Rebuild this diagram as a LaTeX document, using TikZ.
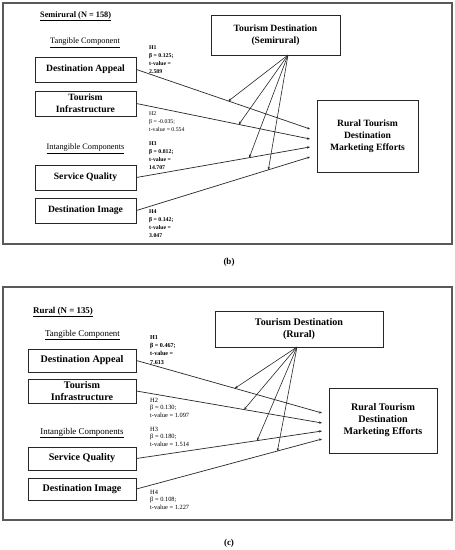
\documentclass[tikz,border=0pt]{standalone}
\usepackage{fontspec}
\setmainfont{Liberation Serif}
\usetikzlibrary{arrows.meta}
\begin{document}
\begin{tikzpicture}[x=1pt,y=-1pt,
  frame/.style={draw=black!65,line width=1.1pt},
  cbox/.style={draw=black!85,line width=0.9pt,align=center,inner sep=0pt,font=\fontsize{9.6}{12}\selectfont\bfseries},
  cboxc/.style={cbox,font=\fontsize{10.1}{12}\selectfont\bfseries},
  hlab/.style={anchor=north west,align=left,inner sep=0pt,font=\fontsize{5.8}{8.3}\selectfont},
  hlabb/.style={hlab,font=\fontsize{5.8}{8.3}\selectfont\bfseries},
  hlabc/.style={anchor=north west,align=left,inner sep=0pt,font=\fontsize{6.4}{7.3}\selectfont},
  sect/.style={inner sep=0pt,font=\fontsize{8.3}{10}\selectfont},
  sectc/.style={inner sep=0pt,font=\fontsize{8.9}{10}\selectfont},
  pathline/.style={draw=black!85,line width=0.7pt,-{Stealth[length=3pt,width=2.4pt]}},
  modarr/.style={draw=black!85,line width=0.6pt,-{Stealth[length=3pt,width=2.4pt]}},
  captext/.style={inner sep=0pt,font=\fontsize{9}{11}\selectfont\bfseries}]
\useasboundingbox (0,0) rectangle (455,550);
\fill[white] (0,0) rectangle (455,550);

% ---------- Panel (b) ----------
\draw[frame] (3,3) rectangle (452,244);
\node[sect,anchor=west,font=\fontsize{8.3}{10}\selectfont\bfseries] (bt) at (40,16) {\underline{Semirural (N = 158)}};
\node[sect] (btc) at (85,43) {\underline{Tangible Component}};
\node[sect] (bic) at (85.5,149) {\underline{Intangible Components}};

\node[cbox,minimum width=101pt,minimum height=25pt] (bda) at (85.5,69.5) {Destination Appeal};
\node[cbox,minimum width=101pt,minimum height=25pt] (bti) at (85.5,103.5) {Tourism\\Infrastructure};
\node[cbox,minimum width=101pt,minimum height=25pt] (bsq) at (85.5,177.5) {Service Quality};
\node[cbox,minimum width=101pt,minimum height=25pt] (bdi) at (85.5,210.5) {Destination Image};
\node[cbox,minimum width=129pt,minimum height=40pt] (btd) at (275.5,35) {Tourism Destination\\(Semirural)};
\node[cbox,minimum width=101pt,minimum height=72pt] (brt) at (367.5,136) {Rural Tourism\\Destination\\Marketing Efforts};

\coordinate (be1) at (310,129);
\coordinate (be2) at (310,139);
\coordinate (be3) at (310,147);
\coordinate (be4) at (310,157);
\coordinate (bm) at (288,55);

\path[pathline] (bda.east) -- coordinate[pos=0.53] (bp1) (be1);
\path[pathline] (bti.east) -- coordinate[pos=0.59] (bp2) (be2);
\path[pathline] (bsq.east) -- coordinate[pos=0.65] (bp3) (be3);
\path[pathline] (bdi.east) -- coordinate[pos=0.76] (bp4) (be4);
\foreach \i in {1,2,3,4} \path[modarr] (bm) -- (bp\i);

\node[hlabb] (bh1) at (149,45) {H1\\β = 0.125;\\t-value =\\2.589};
\node[hlab] (bh2) at (149,111) {H2\\β = -0.035;\\t-value = 0.554};
\node[hlabb] (bh3) at (149,141) {H3\\β = 0.812;\\t-value =\\14.707};
\node[hlabb] (bh4) at (149,209) {H4\\β = 0.142;\\t-value =\\3.047};

\node[captext] (bcap) at (229,262) {(b)};

% ---------- Panel (c) ----------
\draw[frame] (3,287) rectangle (452,520);
\node[sectc,anchor=west,font=\fontsize{8.9}{10}\selectfont\bfseries] (ct) at (33,312) {\underline{Rural (N = 135)}};
\node[sectc] (ctc) at (82.5,335) {\underline{Tangible Component}};
\node[sectc] (cic) at (82,433) {\underline{Intangible Components}};

\node[cboxc,minimum width=108pt,minimum height=23pt] (cda) at (82,360.5) {Destination Appeal};
\node[cboxc,minimum width=108pt,minimum height=24pt] (cti) at (82,391) {Tourism\\Infrastructure};
\node[cboxc,minimum width=108pt,minimum height=23pt] (csq) at (82,458.5) {Service Quality};
\node[cboxc,minimum width=108pt,minimum height=22pt] (cdi) at (82,489) {Destination Image};
\node[cboxc,minimum width=168pt,minimum height=36pt] (ctd) at (299,329) {Tourism Destination\\(Rural)};
\node[cboxc,minimum width=108pt,minimum height=65pt] (crt) at (383,420.5) {Rural Tourism\\Destination\\Marketing Efforts};

\coordinate (ce1) at (322,413);
\coordinate (ce2) at (322,423);
\coordinate (ce3) at (322,431);
\coordinate (ce4) at (322,439);
\coordinate (cm) at (297,347);

\path[pathline] (cda.east) -- coordinate[pos=0.53] (cp1) (ce1);
\path[pathline] (cti.east) -- coordinate[pos=0.58] (cp2) (ce2);
\path[pathline] (csq.east) -- coordinate[pos=0.65] (cp3) (ce3);
\path[pathline] (cdi.east) -- coordinate[pos=0.76] (cp4) (ce4);
\foreach \i in {1,2,3,4} \path[modarr] (cm) -- (cp\i);

\node[hlabb,font=\fontsize{6.1}{8.3}\selectfont\bfseries] (ch1) at (150,335) {H1\\β = 0.467;\\t-value =\\7.613};
\node[hlabc] (ch2) at (150,398) {H2\\β = 0.130;\\t-value = 1.097};
\node[hlabc] (ch3) at (150,427) {H3\\β = 0.180;\\t-value = 1.514};
\node[hlabc] (ch4) at (150,490) {H4\\β = 0.108;\\t-value = 1.227};

\node[captext] (ccap) at (229,543) {(c)};
\end{tikzpicture}
\end{document}
